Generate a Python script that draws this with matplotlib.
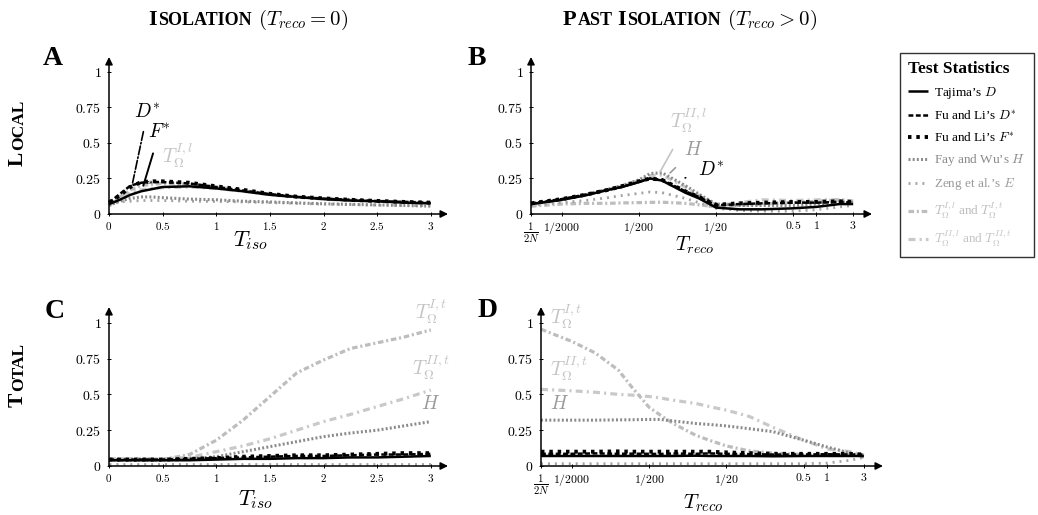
import numpy as np
import matplotlib
matplotlib.use('Agg')
import matplotlib.pyplot as plt

plt.rcParams['mathtext.fontset'] = 'cm'
plt.rcParams['font.family'] = ['Liberation Serif', 'DejaVu Serif']
plt.rcParams['lines.scale_dashes'] = False

# ---- data ----
t_iso = [0, 0.1, 0.2, 0.3, 0.4, 0.5, 0.75, 1, 1.25, 1.5, 1.75, 2, 2.25, 2.5, 2.75, 3]
t_reco = [0.0002, 0.0005, 0.001, 0.002, 0.003, 0.005, 0.007, 0.01, 0.02, 0.03,
          0.05, 0.1, 0.2, 0.5, 1, 2, 3]

# A: local, isolation
a_taj = [0.07, 0.10, 0.135, 0.16, 0.175, 0.19, 0.195, 0.18, 0.16, 0.135, 0.12, 0.105, 0.095, 0.09, 0.08, 0.075]
a_dstar = [0.08, 0.14, 0.20, 0.22, 0.225, 0.225, 0.215, 0.19, 0.165, 0.14, 0.12, 0.108, 0.10, 0.09, 0.085, 0.078]
a_fstar = [0.08, 0.13, 0.19, 0.225, 0.23, 0.23, 0.22, 0.195, 0.17, 0.142, 0.122, 0.11, 0.10, 0.092, 0.085, 0.08]
a_h = [0.06, 0.09, 0.11, 0.12, 0.12, 0.115, 0.105, 0.10, 0.09, 0.085, 0.078, 0.072, 0.068, 0.064, 0.06, 0.055]
a_e = [0.07, 0.085, 0.09, 0.095, 0.095, 0.095, 0.09, 0.088, 0.085, 0.08, 0.075, 0.07, 0.066, 0.062, 0.06, 0.058]
a_t1 = [0.06, 0.12, 0.17, 0.20, 0.21, 0.215, 0.21, 0.19, 0.165, 0.14, 0.12, 0.108, 0.098, 0.09, 0.085, 0.08]
a_t2 = [0.06, 0.11, 0.15, 0.17, 0.18, 0.185, 0.19, 0.18, 0.16, 0.135, 0.12, 0.105, 0.095, 0.09, 0.082, 0.078]

# B: local, past isolation
b_taj = [0.07, 0.10, 0.13, 0.17, 0.19, 0.225, 0.25, 0.235, 0.15, 0.11, 0.045, 0.033, 0.033, 0.04, 0.05, 0.07, 0.07]
b_dstar = [0.075, 0.105, 0.135, 0.17, 0.19, 0.225, 0.25, 0.24, 0.16, 0.12, 0.06, 0.07, 0.075, 0.08, 0.08, 0.085, 0.08]
b_fstar = [0.075, 0.105, 0.135, 0.17, 0.195, 0.23, 0.25, 0.24, 0.16, 0.12, 0.065, 0.075, 0.08, 0.085, 0.085, 0.09, 0.085]
b_h = [0.07, 0.10, 0.135, 0.175, 0.20, 0.24, 0.285, 0.29, 0.20, 0.14, 0.07, 0.06, 0.06, 0.06, 0.07, 0.085, 0.08]
b_e = [0.06, 0.08, 0.095, 0.115, 0.13, 0.145, 0.155, 0.15, 0.11, 0.08, 0.04, 0.025, 0.02, 0.02, 0.03, 0.05, 0.06]
b_t1 = [0.055, 0.07, 0.075, 0.075, 0.078, 0.08, 0.082, 0.083, 0.075, 0.065, 0.05, 0.06, 0.07, 0.08, 0.09, 0.10, 0.09]
b_t2 = [0.065, 0.10, 0.135, 0.17, 0.195, 0.235, 0.27, 0.275, 0.19, 0.13, 0.06, 0.08, 0.10, 0.095, 0.10, 0.10, 0.09]

# C: total, isolation
c_taj = [0.04, 0.04, 0.04, 0.04, 0.04, 0.04, 0.04, 0.045, 0.05, 0.05, 0.055, 0.055, 0.06, 0.06, 0.065, 0.07]
c_dstar = [0.045, 0.045, 0.045, 0.045, 0.045, 0.045, 0.05, 0.055, 0.06, 0.065, 0.07, 0.07, 0.075, 0.08, 0.08, 0.085]
c_fstar = [0.045, 0.045, 0.045, 0.045, 0.045, 0.045, 0.05, 0.055, 0.065, 0.07, 0.075, 0.075, 0.08, 0.085, 0.09, 0.09]
c_h = [0.04, 0.04, 0.04, 0.04, 0.04, 0.04, 0.05, 0.065, 0.10, 0.135, 0.17, 0.205, 0.23, 0.25, 0.28, 0.31]
c_e = [0.015, 0.015, 0.015, 0.015, 0.015, 0.015, 0.015, 0.015, 0.015, 0.015, 0.015, 0.015, 0.015, 0.015, 0.015, 0.015]
c_t1 = [0.05, 0.05, 0.05, 0.05, 0.05, 0.045, 0.08, 0.18, 0.32, 0.485, 0.65, 0.74, 0.82, 0.86, 0.90, 0.95]
c_t2 = [0.05, 0.05, 0.05, 0.05, 0.05, 0.05, 0.06, 0.10, 0.14, 0.19, 0.25, 0.31, 0.36, 0.415, 0.47, 0.53]

# D: total, past isolation
d_taj = [0.07, 0.07, 0.07, 0.07, 0.07, 0.07, 0.07, 0.07, 0.072, 0.07, 0.07, 0.07, 0.068, 0.07, 0.07, 0.07, 0.07]
d_dstar = [0.085, 0.085, 0.088, 0.085, 0.086, 0.085, 0.084, 0.087, 0.085, 0.088, 0.085, 0.083, 0.08, 0.08, 0.082, 0.08, 0.08]
d_fstar = [0.10, 0.10, 0.10, 0.102, 0.10, 0.10, 0.10, 0.10, 0.10, 0.10, 0.095, 0.09, 0.085, 0.085, 0.085, 0.085, 0.08]
d_h = [0.32, 0.32, 0.32, 0.322, 0.323, 0.325, 0.325, 0.315, 0.297, 0.29, 0.28, 0.26, 0.24, 0.18, 0.133, 0.09, 0.063]
d_e = [0.016, 0.016, 0.016, 0.016, 0.016, 0.016, 0.016, 0.016, 0.016, 0.016, 0.016, 0.016, 0.016, 0.016, 0.02, 0.04, 0.06]
d_t1 = [0.955, 0.87, 0.79, 0.67, 0.55, 0.41, 0.355, 0.30, 0.215, 0.18, 0.14, 0.105, 0.09, 0.08, 0.08, 0.08, 0.075]
d_t2 = [0.535, 0.525, 0.515, 0.50, 0.495, 0.485, 0.475, 0.46, 0.437, 0.415, 0.39, 0.345, 0.27, 0.18, 0.12, 0.10, 0.075]

y_ticks = [0, 0.25, 0.5, 0.75, 1]
y_ticklabels = ['$0$', '$0.25$', '$0.5$', '$0.75$', '$1$']
iso_ticks = [0, 0.5, 1, 1.5, 2, 2.5, 3]
iso_ticklabels = ['$0$', '$0.5$', '$1$', '$1.5$', '$2$', '$2.5$', '$3$']
reco_ticks = [1 / 5000, 1 / 2000, 1 / 200, 1 / 20, 0.5, 1, 3]
reco_ticklabels = [r'$\frac{1}{2N}$', '$1/2000$', '$1/200$', '$1/20$', '$0.5$', '$1$', '$3$']

legend_labels = ['Tajima\u2019s $D$', 'Fu and Li\u2019s $D^{*}$', 'Fu and Li\u2019s $F^{*}$',
                 'Fay and Wu\u2019s $H$', 'Zeng et al.\u2019s $E$',
                 r'$T_{\Omega}^{I,l}$ and $T_{\Omega}^{I,t}$',
                 r'$T_{\Omega}^{II,l}$ and $T_{\Omega}^{II,t}$']

# line styles: (color, linewidth, linestyle)
styles = {
    'taj': ('black', 1.8, '-'),
    'dstar': ('black', 1.8, (0, (3.5, 1.8))),
    'fstar': ('black', 2.8, (0, (2.5, 3.5))),
    'h': ('#8a8a8a', 2.2, (0, (1.4, 1.6))),
    'e': ('#a2a2a2', 2.0, (0, (1.4, 3.6))),
    't1': ('#bdbdbd', 2.3, (0, (4, 2, 1.5, 2))),
    't2': ('#c9c9c9', 2.3, (0, (5, 3, 1.5, 3))),
}
text_colors = ['black', 'black', 'black', '#8a8a8a', '#9a9a9a', '#bdbdbd', '#c4c4c4']

W, H = 1038, 515
fig = plt.figure(figsize=(W / 100, H / 100), dpi=100)


def axes_px(left, right, top, bottom):
    return fig.add_axes([left / W, 1 - bottom / H, (right - left) / W, (bottom - top) / H])


def style_axis(ax, logx):
    for s in ax.spines.values():
        s.set_visible(False)
    arrow = dict(arrowstyle='-|>', color='black', lw=1.1, mutation_scale=11, shrinkA=0, shrinkB=0)
    ax.annotate('', xy=(1, 0), xytext=(0, 0), xycoords='axes fraction', arrowprops=arrow)
    ax.annotate('', xy=(0, 1), xytext=(0, 0), xycoords='axes fraction', arrowprops=arrow)
    ax.set_yticks(y_ticks)
    ax.set_yticklabels(y_ticklabels, fontsize=10)
    if logx:
        ax.set_xscale('log')
        ax.set_xticks(reco_ticks)
        ax.set_xticklabels(reco_ticklabels, fontsize=8.5)
        ax.get_xticklabels()[0].set_fontsize(11)
        ax.xaxis.set_minor_locator(matplotlib.ticker.NullLocator())
    else:
        ax.set_xticks(iso_ticks)
        ax.set_xticklabels(iso_ticklabels, fontsize=8)
    ax.tick_params(axis='y', direction='inout', length=3, width=0.7, pad=4)
    ax.tick_params(axis='x', direction='inout', length=3, width=0.7, pad=3)
    ax.patch.set_visible(False)


def draw(ax, x, series):
    handles = {}
    for key in ['t2', 't1', 'e', 'h', 'fstar', 'dstar', 'taj']:
        c, lw, ls = styles[key]
        ln, = ax.plot(x, series[key], color=c, lw=lw, linestyle=ls, clip_on=False,
                      solid_capstyle='butt', dash_capstyle='butt')
        handles[key] = ln
    return handles


axA = axes_px(109, 448, 57, 214)
axB = axes_px(531, 872, 57, 214)
axC = axes_px(109, 448, 307, 466)
axD = axes_px(541, 883, 307, 466)

hA = draw(axA, t_iso, dict(taj=a_taj, dstar=a_dstar, fstar=a_fstar, h=a_h, e=a_e, t1=a_t1, t2=a_t2))
draw(axB, t_reco, dict(taj=b_taj, dstar=b_dstar, fstar=b_fstar, h=b_h, e=b_e, t1=b_t1, t2=b_t2))
draw(axC, t_iso, dict(taj=c_taj, dstar=c_dstar, fstar=c_fstar, h=c_h, e=c_e, t1=c_t1, t2=c_t2))
draw(axD, t_reco, dict(taj=d_taj, dstar=d_dstar, fstar=d_fstar, h=d_h, e=d_e, t1=d_t1, t2=d_t2))

for ax, logx in [(axA, False), (axB, True), (axC, False), (axD, True)]:
    style_axis(ax, logx)
axA.set_xlim(0, 3.16); axA.set_ylim(0, 1.105)
axC.set_xlim(0, 3.16); axC.set_ylim(0, 1.11)
axB.set_xlim(2e-4, 5.26); axB.set_ylim(0, 1.105)
axD.set_xlim(2e-4, 5.31); axD.set_ylim(0, 1.11)

# curve labels
lab = dict(fontsize=14, ha='center', va='center')
axA.annotate('$D^{*}$', xy=(0.22, 0.22), xytext=(0.36, 0.72), color='black',
             arrowprops=dict(arrowstyle='-', color='black', lw=1.2, linestyle='-.', shrinkA=6, shrinkB=0), **lab)
axA.annotate('$F^{*}$', xy=(0.32, 0.2), xytext=(0.47, 0.575), color='black',
             arrowprops=dict(arrowstyle='-', color='black', lw=1.4, shrinkA=7, shrinkB=0), **lab)
axA.annotate(r'$T_{\Omega}^{I,l}$', xy=(0.37, 0.22), xytext=(0.64, 0.41), color='#c4c4c4',
             arrowprops=dict(arrowstyle='-', color='#c4c4c4', lw=1.2, shrinkA=9, shrinkB=0), **lab)
axB.annotate(r'$T_{\Omega}^{II,l}$', xy=(0.0094, 0.296), xytext=(0.0224, 0.66), color='#c4c4c4',
             arrowprops=dict(arrowstyle='-', color='#c4c4c4', lw=1.2, shrinkA=10, shrinkB=0), **lab)
axB.annotate('$H$', xy=(0.0127, 0.289), xytext=(0.0255, 0.45), color='#9a9a9a',
             arrowprops=dict(arrowstyle='-', color='#9a9a9a', lw=1.2, shrinkA=6, shrinkB=0), **lab)
axB.annotate('$D^{*}$', xy=(0.0199, 0.254), xytext=(0.043, 0.31), color='black',
             arrowprops=dict(arrowstyle='-', color='black', lw=1.2, linestyle='-.', shrinkA=7, shrinkB=0), **lab)
axC.text(3.0, 1.08, r'$T_{\Omega}^{I,t}$', color='#c4c4c4', **lab)
axC.text(3.0, 0.685, r'$T_{\Omega}^{II,t}$', color='#c4c4c4', **lab)
axC.text(3.0, 0.43, '$H$', color='#9a9a9a', **lab)
axD.text(2.6e-4, 1.04, r'$T_{\Omega}^{I,t}$', color='#c4c4c4', fontsize=14, ha='left', va='center')
axD.text(2.6e-4, 0.68, r'$T_{\Omega}^{II,t}$', color='#c4c4c4', fontsize=14, ha='left', va='center')
axD.text(2.6e-4, 0.43, '$H$', color='#9a9a9a', fontsize=14, ha='left', va='center')

# axis labels
fig.text(250 / W, 1 - 246 / H, '$T_{iso}$', fontsize=16, ha='center', va='baseline')
fig.text(695 / W, 1 - 251 / H, '$T_{reco}$', fontsize=14.5, ha='center', va='baseline')
fig.text(255 / W, 1 - 505 / H, '$T_{iso}$', fontsize=16, ha='center', va='baseline')
fig.text(703 / W, 1 - 508 / H, '$T_{reco}$', fontsize=15, ha='center', va='baseline')

# panel letters
for s, x, y in [('A', 43, 65), ('B', 468, 65), ('C', 45, 318), ('D', 478, 317)]:
    fig.text(x / W, 1 - y / H, s, fontsize=20, fontweight='bold', va='baseline')

renderer = fig.canvas.get_renderer()


def small_caps(parts, x, y, rotation=0):
    # parts: (text, size, weight, gap_after_px)
    texts, lengths = [], []
    for s, fs, fw, gap in parts:
        t = fig.text(0, 0, s, fontsize=fs, fontweight=fw, ha='left', va='baseline',
                     rotation=rotation, rotation_mode='anchor')
        bb = t.get_window_extent(renderer)
        texts.append(t)
        lengths.append((bb.height if rotation else bb.width) + gap)
    pos = -sum(lengths) / 2
    for t, n in zip(texts, lengths):
        if rotation:
            t.set_position((x / W, 1 - (y - pos) / H))
        else:
            t.set_position(((x + pos) / W, 1 - y / H))
        pos += n


big, small = 16, 13
small_caps([('I', big, 'bold', 1), ('SOLATION', small, 'bold', 6),
            ('$(T_{reco}=0)$', 15, 'normal', 0)], 248, 25)
small_caps([('P', big, 'bold', 1), ('AST', small, 'bold', 5), ('I', big, 'bold', 1),
            ('SOLATION', small, 'bold', 6), ('$(T_{reco}>0)$', 15, 'normal', 0)], 690, 25)
small_caps([('L', 15.5, 'bold', 1), ('OCAL', 12.5, 'bold', 0)], 23, 133, rotation=90)
small_caps([('T', 15.5, 'bold', 1), ('OTAL', 12.5, 'bold', 0)], 23, 375, rotation=90)

# legend
order = ['taj', 'dstar', 'fstar', 'h', 'e', 't1', 't2']
leg = fig.legend([hA[k] for k in order], legend_labels, loc='upper left',
                 bbox_to_anchor=(900 / W, 1 - 53 / H), borderaxespad=0, frameon=True,
                 fancybox=False, edgecolor='black', fontsize=9.5, handlelength=1.5,
                 handletextpad=0.5, labelspacing=0.6, borderpad=0.6,
                 title='Test Statistics', alignment='left',
                 title_fontproperties={'size': 12.5, 'weight': 'bold'})
leg.get_frame().set_linewidth(1.0)
for t, c in zip(leg.get_texts(), text_colors):
    t.set_color(c)

fig.savefig('out.png', dpi=100)
